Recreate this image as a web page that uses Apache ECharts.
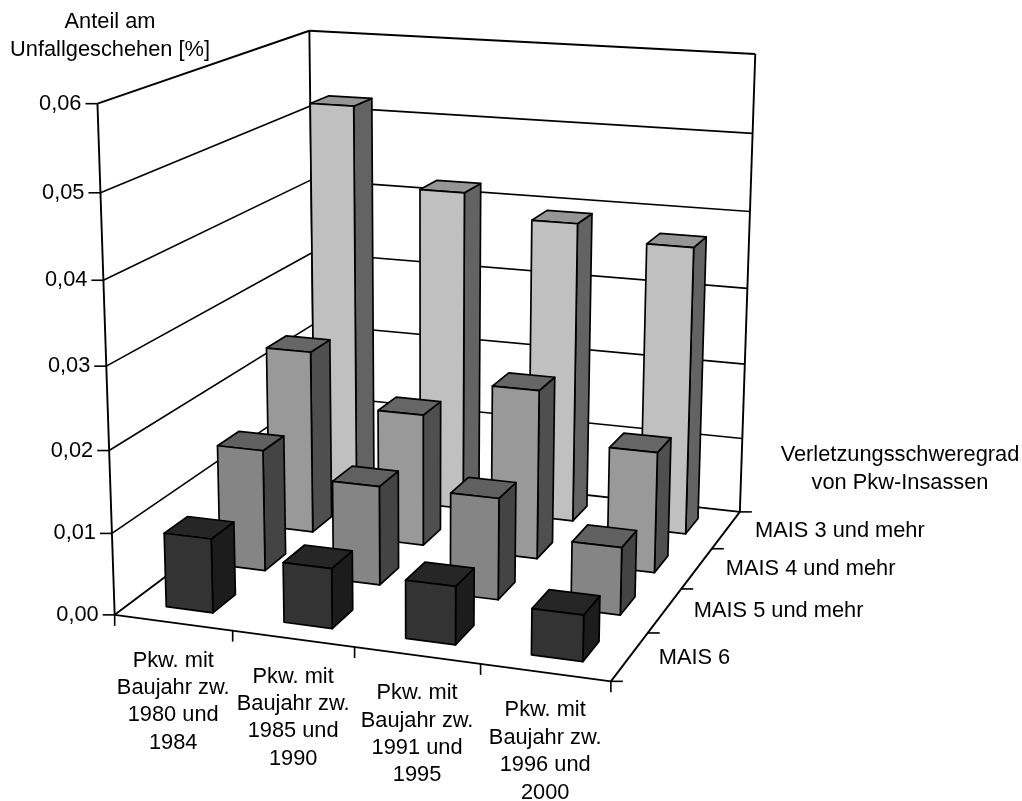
<!DOCTYPE html>
<html lang="de">
<head>
<meta charset="utf-8">
<title>Anteil am Unfallgeschehen</title>
<style>html,body{margin:0;padding:0;background:#fff}#chart{width:1022px;height:801px}</style>
<script src="https://cdn.jsdelivr.net/npm/echarts@6/dist/echarts.min.js"></script>
</head>
<body>
<div id="chart"></div>
<script>
// Chart values
const categories = [
  'Pkw. mit\nBaujahr zw.\n1980 und\n1984',
  'Pkw. mit\nBaujahr zw.\n1985 und\n1990',
  'Pkw. mit\nBaujahr zw.\n1991 und\n1995',
  'Pkw. mit\nBaujahr zw.\n1996 und\n2000'
];
const depthLabels = ['MAIS 6', 'MAIS 5 und mehr', 'MAIS 4 und mehr', 'MAIS 3 und mehr'];
const yTicks = [0, 0.01, 0.02, 0.03, 0.04, 0.05, 0.06];
const yTickLabels = ['0,00', '0,01', '0,02', '0,03', '0,04', '0,05', '0,06'];
const mais6 = [0.0091, 0.0073, 0.0070, 0.0055];
const mais5 = [0.0153, 0.0124, 0.0126, 0.0083];
const mais4 = [0.0237, 0.0170, 0.0216, 0.0153];
const mais3 = [0.0523, 0.0421, 0.0392, 0.0373];

// Screen anchors of the 3D box: [X, Z, Y] -> [px, py]
const boxAnchors = [
  [0, 0, 0, 115, 613], [1, 0, 0, 611, 683], [1, 1, 0, 740, 510], [0, 1, 0, 314, 467],
  [0, 0, 1, 97, 104], [0, 1, 1, 310, 30], [1, 1, 1, 755, 54.5]
];

// Least-squares fit of a projective camera to the box anchors
function fitCamera(pts) {
  const rows = [], rhs = [];
  pts.forEach(([X, Z, Y, u, v]) => {
    rows.push([X, Z, Y, 1, 0, 0, 0, 0, -u * X, -u * Z, -u * Y]); rhs.push(u);
    rows.push([0, 0, 0, 0, X, Z, Y, 1, -v * X, -v * Z, -v * Y]); rhs.push(v);
  });
  const n = 11, A = [];
  for (let i = 0; i < n; i++) {
    A.push(new Array(n + 1).fill(0));
    for (let j = 0; j < n; j++) rows.forEach(r => { A[i][j] += r[i] * r[j]; });
    rows.forEach((r, k) => { A[i][n] += r[i] * rhs[k]; });
  }
  for (let i = 0; i < n; i++) {
    let m = i;
    for (let k = i + 1; k < n; k++) if (Math.abs(A[k][i]) > Math.abs(A[m][i])) m = k;
    [A[i], A[m]] = [A[m], A[i]];
    for (let k = 0; k < n; k++) {
      if (k === i) continue;
      const f = A[k][i] / A[i][i];
      for (let j = i; j <= n; j++) A[k][j] -= f * A[i][j];
    }
  }
  return A.map((r, i) => r[n] / r[i]);
}
const cam = fitCamera(boxAnchors);
function project(X, Z, Y) {
  const w = cam[8] * X + cam[9] * Z + cam[10] * Y + 1;
  return [(cam[0] * X + cam[1] * Z + cam[2] * Y + cam[3]) / w,
          (cam[4] * X + cam[5] * Z + cam[6] * Y + cam[7]) / w];
}

const FONT = '21.8px "Liberation Sans", Arial, sans-serif';
const barWidth = 0.40, barDepth = 0.42;
const barShades = [
  { front: '#333333', side: '#1c1c1c', top: '#262626' },
  { front: '#858585', side: '#444444', top: '#606060' },
  { front: '#999999', side: '#4f4f4f', top: '#666666' },
  { front: '#c0c0c0', side: '#636363', top: '#969696' }
];
const frameLine = { stroke: '#000', lineWidth: 1.9 };
const gridLine = { stroke: '#000', lineWidth: 1.6 };

const line = (a, b, style) => ({
  type: 'line', silent: true,
  shape: { x1: a[0], y1: a[1], x2: b[0], y2: b[1] }, style
});
const label = (text, x, y, align, lineHeight) => ({
  type: 'text', silent: true,
  style: { text, x, y, font: FONT, fill: '#000', align, verticalAlign: 'middle', lineHeight }
});
// Normalised box position of a data point
function toBox(api, params, c, v) {
  const p = api.coord([c, v]), s = params.coordSys;
  return [(p[0] - s.x) / s.width, (s.y + s.height - p[1]) / s.height];
}

function renderBar(depthIndex) {
  return (params, api) => {
    const [fx, fy] = toBox(api, params, api.value(0), api.value(1));
    const hw = barWidth / 8;
    const z0 = (depthIndex + 0.5 - barDepth / 2) / 4, z1 = (depthIndex + 0.5 + barDepth / 2) / 4;
    const x0 = fx - hw, x1 = fx + hw;
    const shade = barShades[depthIndex];
    const border = { stroke: '#000', lineWidth: 1.7, lineJoin: 'round' };
    const poly = (pts, fill) => ({
      type: 'polygon', shape: { points: pts }, style: Object.assign({ fill }, border)
    });
    return {
      type: 'group',
      children: [
        poly([project(x1, z0, 0), project(x1, z1, 0), project(x1, z1, fy), project(x1, z0, fy)], shade.side),
        poly([project(x0, z0, fy), project(x1, z0, fy), project(x1, z1, fy), project(x0, z1, fy)], shade.top),
        poly([project(x0, z0, 0), project(x1, z0, 0), project(x1, z0, fy), project(x0, z0, fy)], shade.front)
      ]
    };
  };
}

function renderWallTick(params, api) {
  const [, fy] = toBox(api, params, 0, api.value(1));
  const a = project(0, 0, fy), b = project(0, 1, fy), c = project(1, 1, fy);
  const edge = fy === 0 || fy === 1;
  const children = [
    line(a, b, edge ? frameLine : gridLine),
    line(b, c, edge ? frameLine : gridLine),
    line([a[0] - 12, a[1]], a, gridLine),
    label(yTickLabels[params.dataIndex], a[0] - 16, a[1], 'right')
  ];
  if (params.dataIndex === 0) {
    const corners = [[0, 0], [0, 1], [1, 1]];
    corners.forEach(([x, z]) => children.push(line(project(x, z, 0), project(x, z, 1), frameLine)));
    children.push(line(project(0, 0, 0), project(1, 0, 0), frameLine));
    children.push(line(project(1, 0, 0), project(1, 1, 0), frameLine));
    for (let i = 0; i <= 4; i++) {
      const p = project(i / 4, 0, 0);
      children.push(line(p, [p[0], p[1] + 11], gridLine));
      const q = project(1, i / 4, 0);
      children.push(line(q, [q[0] + 12, q[1]], gridLine));
    }
  }
  return { type: 'group', children };
}

function renderCategoryLabel(params, api) {
  const [fx] = toBox(api, params, api.value(0), 0);
  const p = project(fx, 0, 0);
  return label(categories[params.dataIndex], p[0], p[1] + 79, 'center', 27.4);
}

function renderDepthLabel(params, api) {
  const i = api.value(0);
  const p = project(1, (i + 0.5) / 4, 0);
  return label(depthLabels[i], p[0] + 29, p[1] + 1, 'left');
}

const barSeries = [mais3, mais4, mais5, mais6].map((values, i) => ({
  type: 'custom', silent: true,
  name: depthLabels[3 - i],
  renderItem: renderBar(3 - i),
  data: values.map((v, c) => [c, v])
}));

const chart = echarts.init(document.getElementById('chart'));
chart.setOption({
  animation: false,
  backgroundColor: '#fff',
  grid: { left: 0, right: 0, top: 0, bottom: 0 },
  xAxis: { type: 'category', data: categories, show: false },
  yAxis: { type: 'value', min: 0, max: 0.06, interval: 0.01, show: false },
  graphic: [
    { type: 'text', silent: true, x: 110, y: 36,
      style: { text: 'Anteil am\nUnfallgeschehen [%]', font: FONT, fill: '#000', align: 'center', verticalAlign: 'middle', lineHeight: 27.4 } },
    { type: 'text', silent: true, x: 900, y: 469,
      style: { text: 'Verletzungsschweregrad\nvon Pkw-Insassen', font: FONT, fill: '#000', align: 'center', verticalAlign: 'middle', lineHeight: 27.8 } }
  ],
  series: [
    { type: 'custom', silent: true, renderItem: renderWallTick, data: yTicks.map(v => [0, v]) },
    ...barSeries,
    { type: 'custom', silent: true, renderItem: renderCategoryLabel, data: categories.map((_, c) => [c, 0]) },
    { type: 'custom', silent: true, renderItem: renderDepthLabel, data: depthLabels.map((_, i) => [i, 0]) }
  ]
});
</script>
</body>
</html>
